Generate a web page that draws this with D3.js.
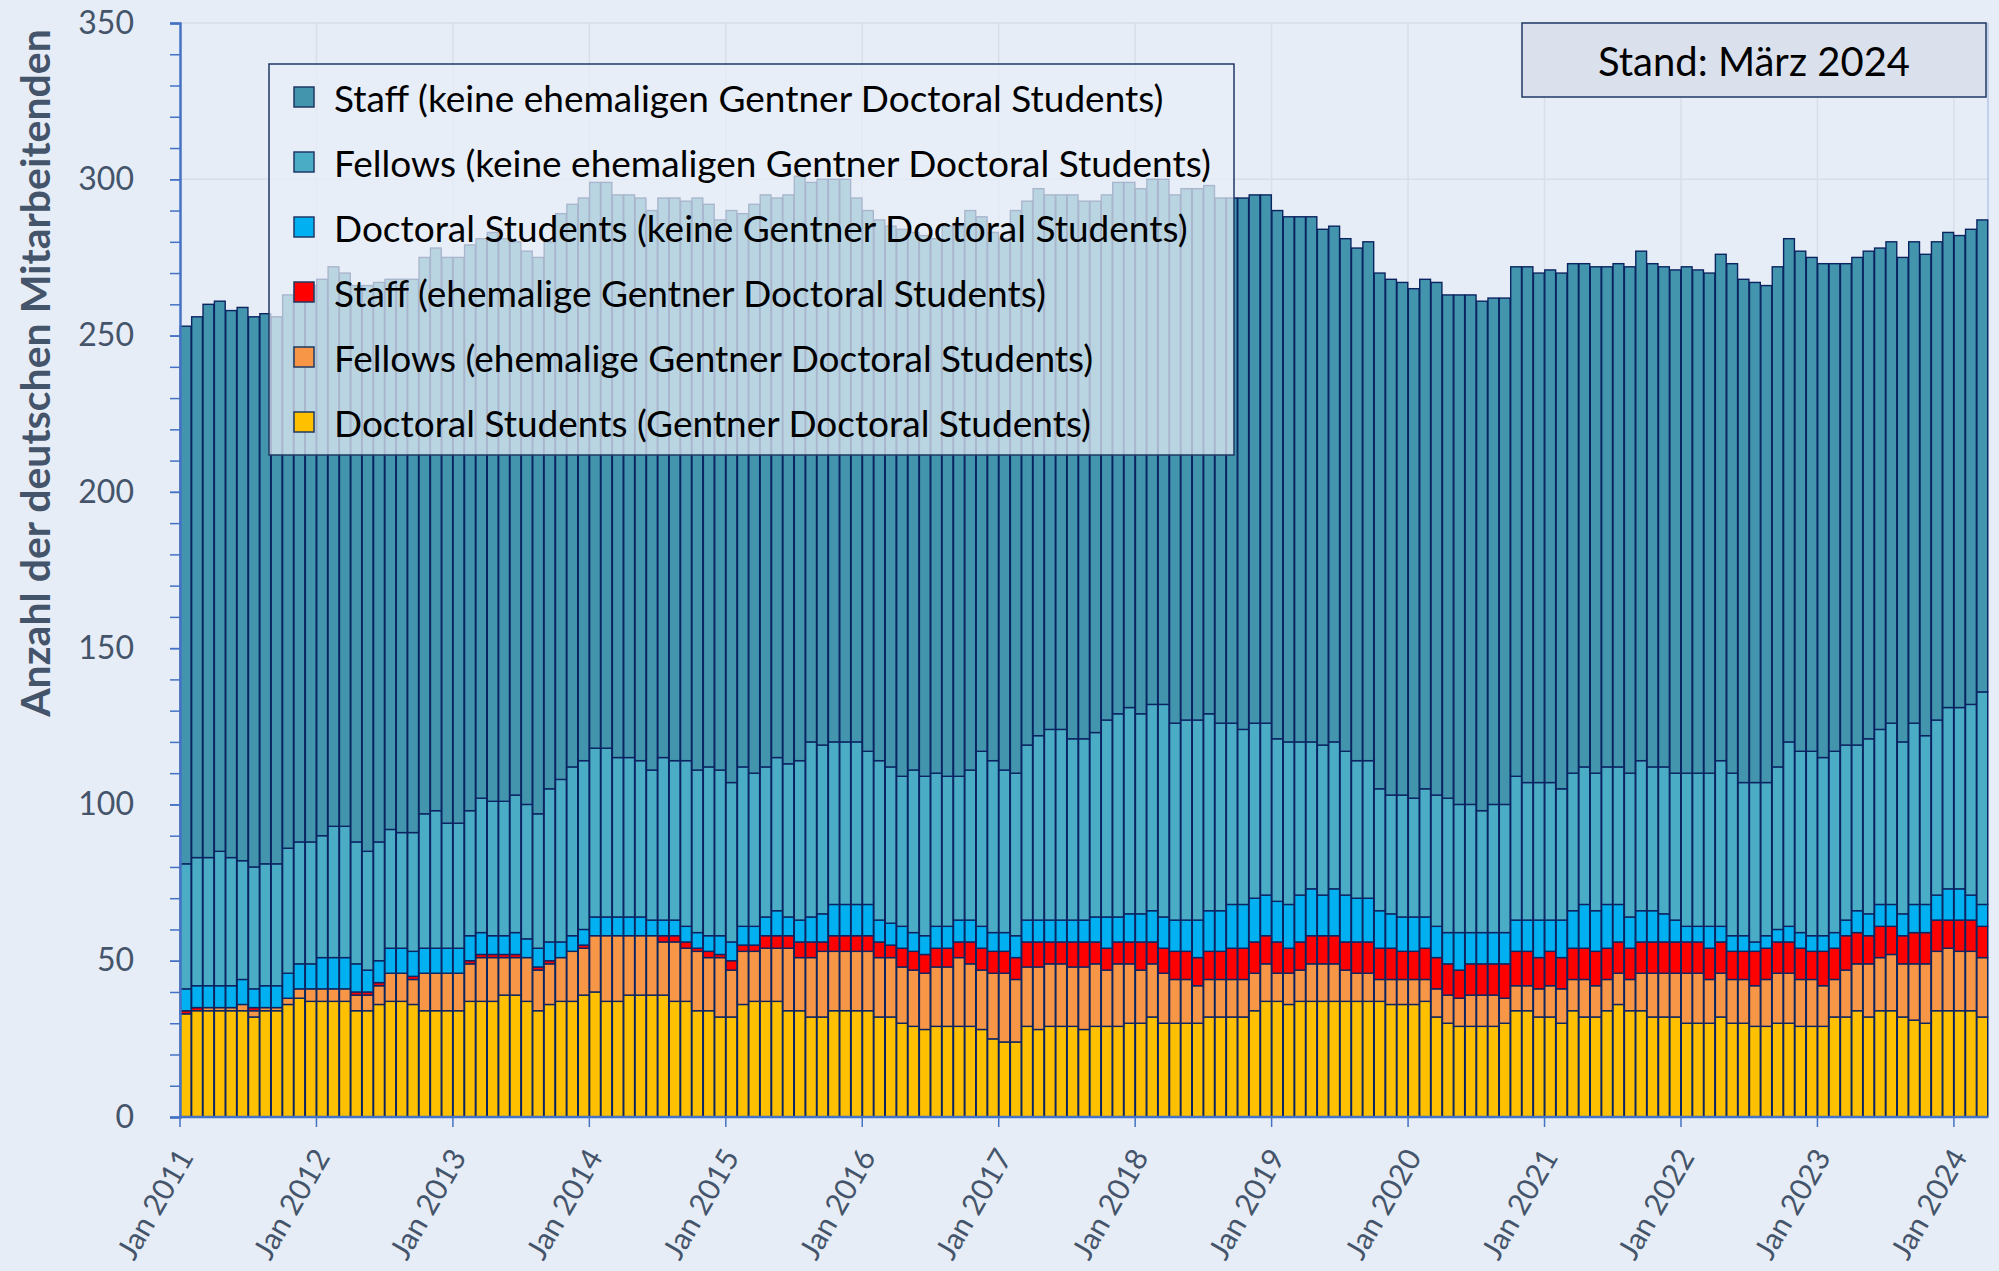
<!DOCTYPE html>
<html><head><meta charset="utf-8">
<script src="https://cdn.jsdelivr.net/npm/d3@7/dist/d3.min.js"></script>
<style>
body{margin:0;background:#E7EDF6;}
svg{display:block;font-family:Lato,"Open Sans",sans-serif;}
</style>
</head><body>
<svg id="chart" width="1999" height="1271"></svg>
<script>
// ---- data (monthly, Jan 2011 .. Mar 2024) ----
const docGentner = [33,34,34,34,34,34,32,34,34,36, 38,37,37,37,37,34,34,36,37,37, 36,34,34,34,34,37,37,37,39,39, 37,34,36,37,37,39,40,37,37,39, 39,39,39,37,37,34,34,32,32,36, 37,37,37,34,34,32,32,34,34,34, 34,32,32,30,29,28,29,29,29,29, 28,25,24,24,29,28,29,29,29,28, 29,29,29,30,30,32,30,30,30,30, 32,32,32,32,34,37,37,36,37,37, 37,37,37,37,37,37,36,36,36,37, 32,30,29,29,29,29,30,34,34,32, 32,30,34,32,32,34,36,34,34,32, 32,32,30,30,30,32,30,30,29,29, 30,30,29,29,29,32,32,34,32,34, 34,32,31,30,34,34,34,34,32];
const fellowsEhem = [0,0,1,1,1,2,2,1,1,2, 3,4,4,4,4,5,5,6,9,9, 8,12,12,12,12,12,14,14,12,12, 14,13,13,14,16,15,18,21,21,19, 19,19,17,19,17,19,17,19,15,17, 16,17,17,20,17,19,21,19,19,19, 19,19,19,18,18,18,19,19,22,20, 19,21,22,20,19,20,20,20,19,20, 20,18,20,19,17,17,16,14,14,12, 12,12,12,12,12,12,9,10,10,12, 12,12,10,9,9,7,8,8,8,7, 9,9,9,10,10,10,8,8,8,9, 10,11,10,12,10,10,10,10,12,14, 14,14,16,16,14,14,14,14,13,15, 16,16,15,15,13,12,15,15,17,17, 18,17,18,19,19,20,19,19,19];
const staffEhem = [1,1,0,0,0,0,1,0,0,0, 0,0,0,0,0,1,1,1,0,0, 1,0,0,0,0,1,1,1,1,1, 0,1,1,0,0,1,0,0,0,0, 0,0,2,2,2,1,2,1,3,2, 2,4,4,4,5,5,3,5,5,5, 5,5,4,6,6,6,6,6,5,7, 7,7,7,7,8,8,7,7,8,8, 7,7,7,7,9,7,8,9,9,9, 9,9,10,10,10,9,10,8,9,9, 9,9,9,10,10,10,10,9,9,10, 10,10,9,10,10,10,11,11,11,10, 11,10,10,10,11,10,10,10,10,10, 10,10,10,10,10,10,9,9,11,10, 10,10,10,9,11,10,11,10,9,10, 9,9,10,10,10,9,10,10,10];
const docKeine = [7,7,7,7,7,8,6,7,7,8, 8,8,10,10,10,9,7,7,8,8, 8,8,8,8,8,8,7,6,6,7, 6,6,6,5,5,5,6,6,6,6, 6,5,5,5,5,5,5,6,6,6, 6,6,8,6,7,8,9,10,10,10, 10,7,7,7,6,6,7,7,7,7, 7,6,6,7,7,7,7,7,7,7, 8,10,8,9,9,10,10,10,10,12, 13,13,14,14,14,13,13,14,15,15, 13,15,15,14,14,12,11,11,11,10, 10,10,12,10,10,10,10,10,10,12, 10,12,12,14,13,14,12,10,10,10, 9,7,5,5,7,5,5,5,3,4, 4,5,5,5,5,5,5,7,7,7, 7,7,9,9,8,10,10,8,7];
const fellowsKeine = [40,41,41,43,41,38,39,39,39,40, 39,39,39,42,42,39,38,38,38,37, 38,43,44,40,40,40,43,43,43,44, 43,43,49,52,54,54,54,54,51,51, 50,48,52,51,53,52,54,53,51,51, 49,48,49,49,51,56,54,52,52,52, 49,51,50,48,52,51,49,48,46,48, 56,55,52,52,56,59,61,61,58,58, 59,63,65,66,64,66,68,63,64,64, 63,60,58,56,56,55,52,52,49,47, 48,47,46,44,44,39,38,39,38,41, 42,43,41,41,39,41,41,46,44,44, 44,42,44,44,44,44,44,46,48,46, 47,47,49,49,49,53,52,49,51,49, 52,59,58,59,57,58,56,53,56,56, 58,55,58,54,56,58,58,61,68];
const staffKeine = [172,173,177,176,175,177,176,176,175,177, 176,178,178,179,177,178,181,179,176,177, 177,178,180,181,181,181,179,182,180,177, 177,178,175,181,180,180,181,181,180,180, 180,179,179,180,179,183,180,176,183,177, 182,183,179,182,187,179,181,180,180,174, 173,173,173,175,172,173,171,176,176,179, 171,169,170,180,174,175,171,171,174,172, 170,168,170,168,168,168,168,169,170,170, 169,168,168,170,169,169,169,168,168,168, 165,165,164,164,166,165,165,164,163,163, 164,161,163,163,163,162,162,163,165,163, 164,165,163,161,162,160,161,162,163,161, 160,161,162,161,160,162,163,161,160,159, 160,161,160,158,158,156,154,156,156,154, 154,155,154,154,153,152,151,152,151];
const xTickLabels = ["Jan 2011","Jan 2012","Jan 2013","Jan 2014","Jan 2015","Jan 2016","Jan 2017","Jan 2018","Jan 2019","Jan 2020","Jan 2021","Jan 2022","Jan 2023","Jan 2024"];
const yTickValues = [0,50,100,150,200,250,300,350];
const seriesKeys = ["docGentner","fellowsEhem","staffEhem","docKeine","fellowsKeine","staffKeine"];
const seriesNames = {
  staffKeine:"Staff (keine ehemaligen Gentner Doctoral Students)",
  fellowsKeine:"Fellows (keine ehemaligen Gentner Doctoral Students)",
  docKeine:"Doctoral Students (keine Gentner Doctoral Students)",
  staffEhem:"Staff (ehemalige Gentner Doctoral Students)",
  fellowsEhem:"Fellows (ehemalige Gentner Doctoral Students)",
  docGentner:"Doctoral Students (Gentner Doctoral Students)"
};
const seriesColors = {staffKeine:"#4295AD",fellowsKeine:"#4BACC6",docKeine:"#00B0F0",staffEhem:"#FF0000",fellowsEhem:"#F79646",docGentner:"#FFC000"};
const standText = "Stand: März 2024";
const yTitle = "Anzahl der deutschen Mitarbeitenden";

// ---- layout ----
const P = {l:180, r:1988, t:23, b:1117};
const months = d3.timeMonth.range(new Date(2011,0,1), new Date(2024,3,1));
const src = {docGentner,fellowsEhem,staffEhem,docKeine,fellowsKeine,staffKeine};
const table = months.map((m,i)=>{const o={i,month:m}; seriesKeys.forEach(k=>o[k]=src[k][i]); return o;});
const stacked = d3.stack().keys(seriesKeys)(table);

const x = d3.scaleBand().domain(d3.range(months.length)).range([P.l,P.r]).paddingInner(0.05).paddingOuter(0.025);
const xb = i => P.l + x.step()*i;   // month boundary
const y = d3.scaleLinear().domain([0,350]).range([P.b,P.t]);

const svg = d3.select("#chart");
svg.append("rect").attr("width",1999).attr("height",1271).attr("fill","#E7EDF6");

// gridlines
const grid = svg.append("g");
grid.selectAll("line.h").data(yTickValues.filter(v=>v>0)).join("line")
  .attr("x1",P.l).attr("x2",P.r).attr("y1",d=>y(d)).attr("y2",d=>y(d))
  .attr("stroke","#D8DEEA").attr("stroke-width",1.5);
grid.selectAll("line.v").data(xTickLabels.map((d,k)=>k*12).filter(i=>i>0)).join("line")
  .attr("x1",d=>xb(d)).attr("x2",d=>xb(d)).attr("y1",P.t).attr("y2",P.b)
  .attr("stroke","#D8DEEA").attr("stroke-width",1.5);
svg.append("line").attr("x1",P.r).attr("x2",P.r).attr("y1",P.t).attr("y2",P.b)
  .attr("stroke","#B4C7E7").attr("stroke-width",1.5);

// bars
svg.append("g").selectAll("g").data(stacked).join("g")
  .attr("fill",d=>seriesColors[d.key])
  .selectAll("rect").data(d=>d.filter(s=>s[1]-s[0]>0)).join("rect")
  .attr("x",d=>x(d.data.i)).attr("width",x.bandwidth())
  .attr("y",d=>y(d[1])).attr("height",d=>y(d[0])-y(d[1]))
  .attr("stroke","#0B2461").attr("stroke-width",1.4);

// y axis
const yMinor = d3.axisLeft(y).tickValues(d3.range(0,351,10)).tickSize(10).tickFormat("");
svg.append("g").attr("transform",`translate(${P.l},0)`).call(yMinor)
  .call(g=>{g.select(".domain").remove(); g.selectAll("line").attr("stroke","#4472C4").attr("stroke-width",1.5);});
const yAxis = d3.axisLeft(y).tickValues(yTickValues).tickSize(10).tickPadding(36);
svg.append("g").attr("transform",`translate(${P.l},0)`).call(yAxis)
  .call(g=>{g.select(".domain").attr("stroke","#4472C4").attr("stroke-width",2.5);
    g.selectAll("line").attr("stroke","#4472C4").attr("stroke-width",1.5);
    g.selectAll("text").attr("fill","#44546A").style("font-size","32px").style("font-family","Lato");});

// x axis
const xa = svg.append("g");
xa.append("line").attr("x1",P.l).attr("x2",P.r).attr("y1",P.b).attr("y2",P.b)
  .attr("stroke","#4472C4").attr("stroke-width",2.5);
xa.selectAll("line.t").data(xTickLabels).join("line")
  .attr("x1",(d,k)=>xb(k*12)).attr("x2",(d,k)=>xb(k*12)).attr("y1",P.b).attr("y2",P.b+10)
  .attr("stroke","#4472C4").attr("stroke-width",1.5);
xa.selectAll("text").data(xTickLabels).join("text")
  .attr("transform",(d,k)=>`translate(${xb(k*12)+4},${P.b+34}) rotate(-60)`)
  .attr("text-anchor","end").attr("dominant-baseline","central")
  .attr("fill","#44546A").style("font-size","30px").text(d=>d);

// y title
svg.append("text").attr("transform","translate(34,373) rotate(-90)")
  .attr("text-anchor","middle").attr("dominant-baseline","central")
  .attr("fill","#44546A").style("font-size","41px").style("font-weight","bold").text(yTitle);

// legend
const lg = svg.append("g");
lg.append("rect").attr("x",269).attr("y",64).attr("width",965).attr("height",391)
  .attr("fill","rgba(232,238,247,0.72)").attr("stroke","#1F3864").attr("stroke-width",1.5);
const legendOrder = seriesKeys.slice().reverse();
const li = lg.selectAll("g.it").data(legendOrder).join("g")
  .attr("transform",(d,k)=>`translate(294,${97+k*65})`);
li.append("rect").attr("x",0).attr("y",-10).attr("width",20).attr("height",20)
  .attr("fill",d=>seriesColors[d]).attr("stroke","#1F3864").attr("stroke-width",1.5);
li.append("text").attr("x",40).attr("dominant-baseline","central")
  .attr("fill","#000").style("font-size","37px").text(d=>seriesNames[d]);

// stand box
svg.append("rect").attr("x",1522).attr("y",23).attr("width",464).attr("height",74)
  .attr("fill","#DAE1EC").attr("stroke","#1F3864").attr("stroke-width",1.5);
svg.append("text").attr("x",1754).attr("y",61).attr("text-anchor","middle").attr("dominant-baseline","central")
  .attr("fill","#000").style("font-size","40px").text(standText);
</script>
</body></html>
